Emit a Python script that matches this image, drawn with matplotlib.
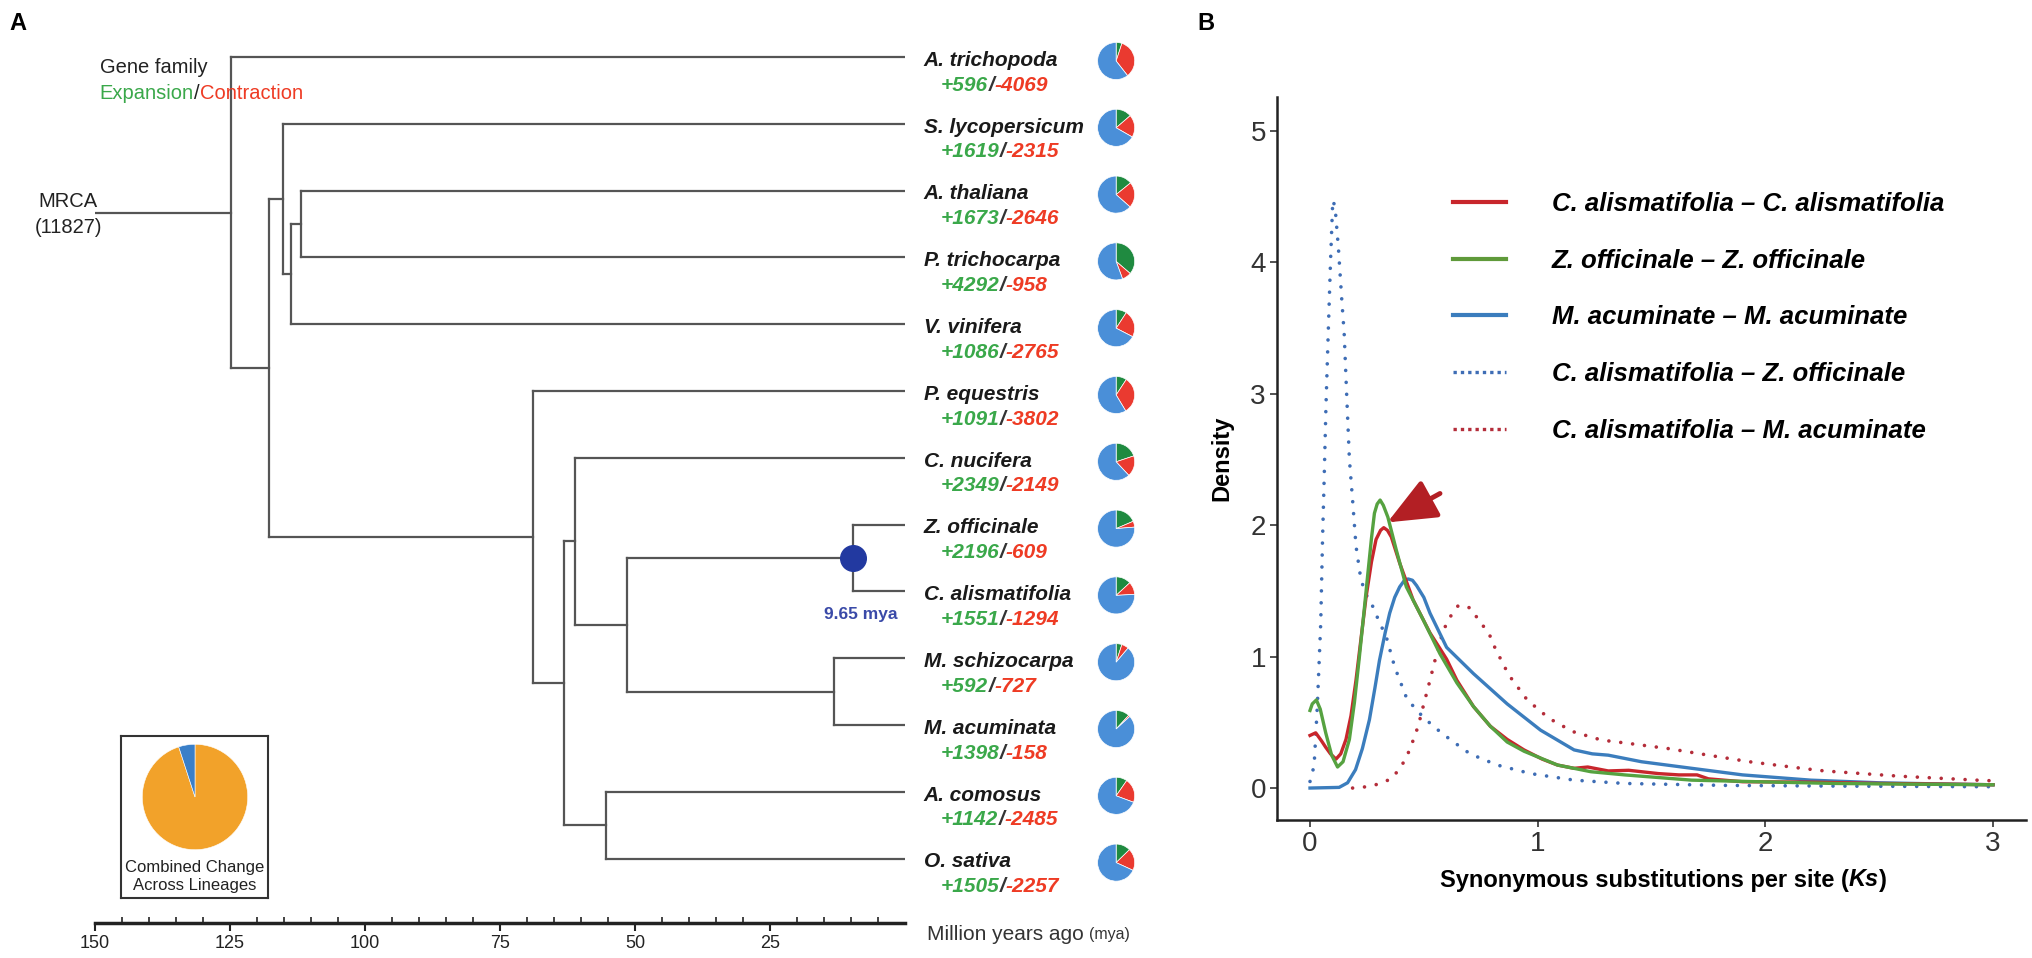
import numpy as np
import matplotlib.pyplot as plt
from matplotlib import font_manager
from matplotlib.lines import Line2D
from matplotlib.offsetbox import TextArea, HPacker, AnchoredOffsetbox

plt.rcParams['font.family'] = ['Liberation Sans', 'DejaVu Sans']
font_names = {f.name for f in font_manager.fontManager.ttflist}
narrow = 'Liberation Sans Narrow' if 'Liberation Sans Narrow' in font_names else 'Liberation Sans'

# ---------------- panel A: tree data ----------------
species = ['A. trichopoda', 'S. lycopersicum', 'A. thaliana', 'P. trichocarpa',
           'V. vinifera', 'P. equestris', 'C. nucifera', 'Z. officinale',
           'C. alismatifolia', 'M. schizocarpa', 'M. acuminata', 'A. comosus',
           'O. sativa']
expansion = [596, 1619, 1673, 4292, 1086, 1091, 2349, 2196, 1551, 592, 1398, 1142, 1505]
contraction = [4069, 2315, 2646, 958, 2765, 3802, 2149, 609, 1294, 727, 158, 2485, 2257]
total_families = 11827

# internal nodes (name, age in mya, child 1, child 2), children before parents
nodes = [
    ('n4', 111.9, 'A. thaliana', 'P. trichocarpa'),
    ('n3', 113.7, 'n4', 'V. vinifera'),
    ('n2', 115.2, 'S. lycopersicum', 'n3'),
    ('n9', 9.65, 'Z. officinale', 'C. alismatifolia'),
    ('n10', 13.1, 'M. schizocarpa', 'M. acuminata'),
    ('n8', 51.5, 'n9', 'n10'),
    ('n7', 61.1, 'C. nucifera', 'n8'),
    ('n11', 55.4, 'A. comosus', 'O. sativa'),
    ('n6', 63.1, 'n7', 'n11'),
    ('n5', 68.9, 'P. equestris', 'n6'),
    ('n1', 117.8, 'n2', 'n5'),
    ('root', 124.8, 'A. trichopoda', 'n1'),
]
mrca_age = 150
mrca_families = 11827
highlight_node = 'n9'
highlight_label = '9.65 mya'

time_major = [150, 125, 100, 75, 50, 25]
time_minor = [t for t in range(5, 150, 5) if t % 25]

combined_values = [95, 5]

# ---------------- panel B: Ks density data ----------------
ks_cc = [0, 0.025, 0.05, 0.069, 0.09, 0.114, 0.135, 0.158, 0.18, 0.202, 0.225, 0.246,
         0.27, 0.29, 0.31, 0.324, 0.34, 0.357, 0.394, 0.453, 0.527, 0.571, 0.6, 0.645,
         0.718, 0.792, 0.866, 0.94, 1.02, 1.087, 1.16, 1.22, 1.31, 1.4, 1.53, 1.62, 1.7,
         1.75, 1.9, 2.2, 2.5, 2.8, 3.0]
dens_cc = [0.40, 0.42, 0.36, 0.31, 0.26, 0.22, 0.26, 0.37, 0.55, 0.82, 1.15, 1.45,
           1.72, 1.89, 1.96, 1.98, 1.96, 1.91, 1.71, 1.43, 1.18, 1.06, 0.98, 0.82,
           0.62, 0.47, 0.37, 0.29, 0.22, 0.175, 0.15, 0.16, 0.13, 0.135, 0.11, 0.10, 0.10,
           0.07, 0.048, 0.045, 0.035, 0.03, 0.025]

ks_zz = [0, 0.01, 0.028, 0.045, 0.069, 0.095, 0.121, 0.145, 0.173, 0.195, 0.217, 0.236,
         0.254, 0.27, 0.283, 0.295, 0.308, 0.322, 0.342, 0.379, 0.423, 0.497, 0.571,
         0.645, 0.718, 0.792, 0.866, 0.94, 1.087, 1.234, 1.382, 1.677, 1.97, 2.3, 2.6, 3.0]
dens_zz = [0.59, 0.64, 0.67, 0.60, 0.42, 0.25, 0.16, 0.20, 0.37, 0.65, 1.0, 1.32,
           1.63, 1.90, 2.09, 2.16, 2.19, 2.15, 2.06, 1.81, 1.53, 1.28, 1.02,
           0.80, 0.62, 0.47, 0.35, 0.28, 0.175, 0.124, 0.10, 0.06, 0.048, 0.035, 0.03, 0.025]

ks_mm = [0, 0.128, 0.165, 0.2, 0.23, 0.261, 0.285, 0.305, 0.33, 0.35, 0.372, 0.394,
         0.415, 0.431, 0.45, 0.468, 0.5, 0.527, 0.6, 0.718, 0.866, 1.013, 1.16, 1.24,
         1.31, 1.456, 1.677, 1.9, 2.2, 2.5, 2.8, 3.0]
dens_mm = [0, 0.005, 0.04, 0.14, 0.30, 0.52, 0.76, 0.97, 1.18, 1.33, 1.45, 1.53,
           1.58, 1.59, 1.58, 1.54, 1.45, 1.33, 1.07, 0.87, 0.64, 0.44, 0.29, 0.26,
           0.25, 0.20, 0.15, 0.10, 0.06, 0.04, 0.03, 0.025]

ks_cz = [0, 0.018, 0.032, 0.047, 0.055, 0.062, 0.07, 0.08, 0.09, 0.1, 0.11, 0.125, 0.14,
         0.15, 0.162, 0.173, 0.187, 0.202, 0.224, 0.25, 0.276, 0.305, 0.335, 0.372,
         0.423, 0.468, 0.541, 0.615, 0.703, 0.822, 0.969, 1.16, 1.38, 1.82, 2.3, 2.7, 3.0]
dens_cz = [0.05, 0.17, 0.62, 1.25, 1.89, 2.34, 2.9, 3.46, 4.0, 4.47, 4.42, 4.1, 3.7,
           3.46, 2.95, 2.5, 2.19, 1.84, 1.58, 1.46, 1.38, 1.26, 1.15, 0.92,
           0.69, 0.59, 0.47, 0.37, 0.26, 0.175, 0.11, 0.06, 0.035, 0.02, 0.015, 0.012, 0.01]

ks_cm = [0.187, 0.25, 0.3, 0.357, 0.40, 0.438, 0.475, 0.497, 0.527, 0.556, 0.586, 0.615,
         0.652, 0.704, 0.748, 0.785, 0.814, 0.873, 0.954, 1.05, 1.153, 1.28, 1.397,
         1.574, 1.75, 1.93, 2.16, 2.26, 2.59, 2.93, 3.0]
dens_cm = [0.0, 0.01, 0.03, 0.07, 0.16, 0.29, 0.47, 0.62, 0.82, 1.02, 1.20, 1.30,
           1.39, 1.37, 1.26, 1.18, 1.06, 0.86, 0.67, 0.53, 0.43, 0.365, 0.34,
           0.30, 0.25, 0.20, 0.15, 0.13, 0.09, 0.06, 0.055]

series_labels = ['C. alismatifolia \u2013 C. alismatifolia',
                 'Z. officinale \u2013 Z. officinale',
                 'M. acuminate \u2013 M. acuminate',
                 'C. alismatifolia \u2013 Z. officinale',
                 'C. alismatifolia \u2013 M. acuminate']
peak_arrow_from = (0.571, 2.24)
peak_arrow_to = (0.34, 2.02)

# ---------------- figure ----------------
W, H = 2033, 958
fig = plt.figure(figsize=(W / 100, H / 100), dpi=100)


def fbox(x0, y0, x1, y1):
    # pixel box (top-left origin) -> figure fraction rect
    return [x0 / W, 1 - y1 / H, (x1 - x0) / W, (y1 - y0) / H]


tree_c = '#555555'
green_t, red_t = '#3aa84a', '#ee3b24'
pie_colors = ['#1f8a40', '#ea3a30', '#4a8fd8']

ax = fig.add_axes(fbox(95, 0, 905, H))
ax.patch.set_visible(False)
ax.set_xlim(150, 0)
ax.set_ylim(13.488, -0.853)

row = {s: i for i, s in enumerate(species)}
age = {s: 0.0 for s in species}
for name, a, c1, c2 in nodes:
    row[name] = (row[c1] + row[c2]) / 2
    age[name] = a
    ax.plot([a, a], [row[c1], row[c2]], color=tree_c, lw=1.6, solid_capstyle='projecting')
    for c in (c1, c2):
        ax.plot([a, age[c]], [row[c], row[c]], color=tree_c, lw=1.6,
                solid_capstyle='projecting')
root = nodes[-1][0]
ax.plot([mrca_age, age[root]], [row[root], row[root]], color=tree_c, lw=1.6)

ax.scatter([age[highlight_node]], [row[highlight_node]], s=340, color='#2239a0', zorder=5)
ax.text(1.3, row[highlight_node] + 0.85, highlight_label, ha='right', va='center',
        fontsize=12.5, fontweight='bold', color='#3a4aa8')

ax.text(155, row[root] - 0.17, 'MRCA', ha='center', va='center', fontsize=14.5,
        color='#222222', clip_on=False)
ax.text(155, row[root] + 0.22, '(%d)' % mrca_families, ha='center', va='center',
        fontsize=14.5, color='#222222', clip_on=False)
ax.text(149.1, 0.15, 'Gene family', ha='left', va='center', fontsize=14.5,
        color='#222222', clip_on=False)


def packed(parts, x, y, trans, loc='center left'):
    areas = [TextArea(t, textprops=p) for t, p in parts]
    box = HPacker(children=areas, align='baseline', pad=0, sep=0)
    anc = AnchoredOffsetbox(loc=loc, child=box, frameon=False, pad=0, borderpad=0,
                            bbox_to_anchor=(x, y), bbox_transform=trans)
    fig.add_artist(anc)


packed([('Expansion', dict(color=green_t, fontsize=14.5)),
        ('/', dict(color='#222222', fontsize=14.5)),
        ('Contraction', dict(color=red_t, fontsize=14.5))], 149.1, 0.54, ax.transData)

name_fp = dict(fontsize=15, fontweight='bold', style='italic')
for i, s in enumerate(species):
    ax.text(-3.5, i + 0.05, s, ha='left', va='center', color='#1a1a1a',
            clip_on=False, **name_fp)
    packed([('+%d' % expansion[i], dict(color=green_t, **name_fp)),
            ('/', dict(color='#333333', **name_fp)),
            ('-%d' % contraction[i], dict(color=red_t, **name_fp))],
           -6.7, i + 0.42, ax.transData)

# pies next to the tips
to_fig = fig.transFigure.inverted()
r = 19
for i, s in enumerate(species):
    cx, cy = to_fig.transform(ax.transData.transform((-39.1, i + 0.06)))
    pax = fig.add_axes([cx - r / W, cy - r / H, 2 * r / W, 2 * r / H])
    rest = total_families - expansion[i] - contraction[i]
    pax.pie([expansion[i], contraction[i], rest], colors=pie_colors, startangle=90,
            counterclock=False, radius=1.22,
            wedgeprops=dict(edgecolor='white', linewidth=0.5))

# time axis
for side in ['top', 'left', 'right']:
    ax.spines[side].set_visible(False)
ax.spines['bottom'].set_position(('data', 12.964))
ax.spines['bottom'].set_bounds(150, 0)
ax.spines['bottom'].set_linewidth(2.5)
ax.spines['bottom'].set_color('#222222')
ax.set_yticks([])
ax.set_xticks(time_major)
ax.set_xticklabels([str(t) for t in time_major])
ax.set_xticks(time_minor, minor=True)
ax.tick_params(axis='x', which='major', direction='out', length=6, width=1.5,
               pad=3, labelsize=13, colors='#222222')
ax.tick_params(axis='x', which='minor', direction='in', length=4, width=1.2,
               colors='#222222')

packed([('Million years ago ', dict(color='#333333', fontsize=15)),
        ('(mya)', dict(color='#333333', fontsize=11.5))],
       927 / W, 1 - 934 / H, fig.transFigure)

# combined change box
bax = fig.add_axes(fbox(121, 736, 268, 898))
bax.set_xticks([])
bax.set_yticks([])
for sp in bax.spines.values():
    sp.set_linewidth(1.5)
    sp.set_color('#333333')
bax.text(0.5, 0.19, 'Combined Change', ha='center', va='center', fontsize=12,
         color='#222222', transform=bax.transAxes)
bax.text(0.5, 0.075, 'Across Lineages', ha='center', va='center', fontsize=12,
         color='#222222', transform=bax.transAxes)
cpx = fig.add_axes(fbox(141, 743, 249, 851))
cpx.pie(combined_values, colors=['#f2a22a', '#3a7fc8'], startangle=90,
        counterclock=False, radius=1.22,
        wedgeprops=dict(edgecolor='white', linewidth=0.4))

fig.text(9 / W, 1 - 24 / H, 'A', fontsize=17, fontweight='bold', va='center')
fig.text(1197 / W, 1 - 24 / H, 'B', fontsize=17, fontweight='bold', va='center')

# ---------------- panel B ----------------
axd = fig.add_axes(fbox(1277, 97, 2026, 820))
axd.set_xlim(-0.145, 3.145)
axd.set_ylim(-0.243, 5.255)

c_red, c_green, c_blue = '#c8262c', '#56a240', '#3b7dbd'
dot = (0, (0.01, 3.3))
axd.plot(ks_cc, dens_cc, color=c_red, lw=2.4, label=series_labels[0], zorder=4)
axd.plot(ks_zz, dens_zz, color=c_green, lw=2.4, label=series_labels[1], zorder=5)
axd.plot(ks_mm, dens_mm, color=c_blue, lw=2.4, label=series_labels[2], zorder=3)
axd.plot(ks_cz, dens_cz, color='#3e6db5', lw=2.6, ls=dot, label=series_labels[3],
         dash_capstyle='round', zorder=2)
axd.plot(ks_cm, dens_cm, color='#b42d3a', lw=2.6, ls=dot, label=series_labels[4],
         dash_capstyle='round', zorder=2)

axd.annotate('', xy=peak_arrow_to, xytext=peak_arrow_from,
             arrowprops=dict(arrowstyle='-|>,head_length=0.75,head_width=0.32',
                             color='#b31f24', lw=3.5, mutation_scale=40,
                             shrinkA=0, shrinkB=0), zorder=6)

for side in ['top', 'right']:
    axd.spines[side].set_visible(False)
for side in ['left', 'bottom']:
    axd.spines[side].set_linewidth(1.8)
    axd.spines[side].set_color('#222222')
axd.set_xticks([0, 1, 2, 3])
axd.set_yticks([0, 1, 2, 3, 4, 5])
axd.tick_params(length=5, width=1.2, colors='#333333', labelsize=20, pad=3)
for lab in axd.get_xticklabels() + axd.get_yticklabels():
    lab.set_fontfamily(narrow)

axd.set_ylabel('Density', fontsize=17, fontweight='bold', labelpad=12)
packed([('Synonymous substitutions per site (', dict(fontsize=17, fontweight='bold')),
        ('Ks', dict(fontsize=17, fontweight='bold', style='italic')),
        (')', dict(fontsize=17, fontweight='bold'))],
       1663 / W, 1 - 880 / H, fig.transFigure, loc='center')

handles = [Line2D([], [], color=c_red, lw=3),
           Line2D([], [], color='#5f9a3a', lw=3),
           Line2D([], [], color=c_blue, lw=3),
           Line2D([], [], color='#3e6db5', lw=2.4, ls=(0, (1, 1.2))),
           Line2D([], [], color='#b42d3a', lw=2.4, ls=(0, (1, 1.2)))]
fig.legend(handles, series_labels, loc='upper left', bbox_to_anchor=(1453 / W, 1 - 192 / H),
           frameon=False, prop=dict(size=18.5, weight='bold', style='italic'),
           handlelength=2.06, handletextpad=1.79, labelspacing=1.27, borderpad=0,
           borderaxespad=0)

fig.savefig('out.png', dpi=100)
